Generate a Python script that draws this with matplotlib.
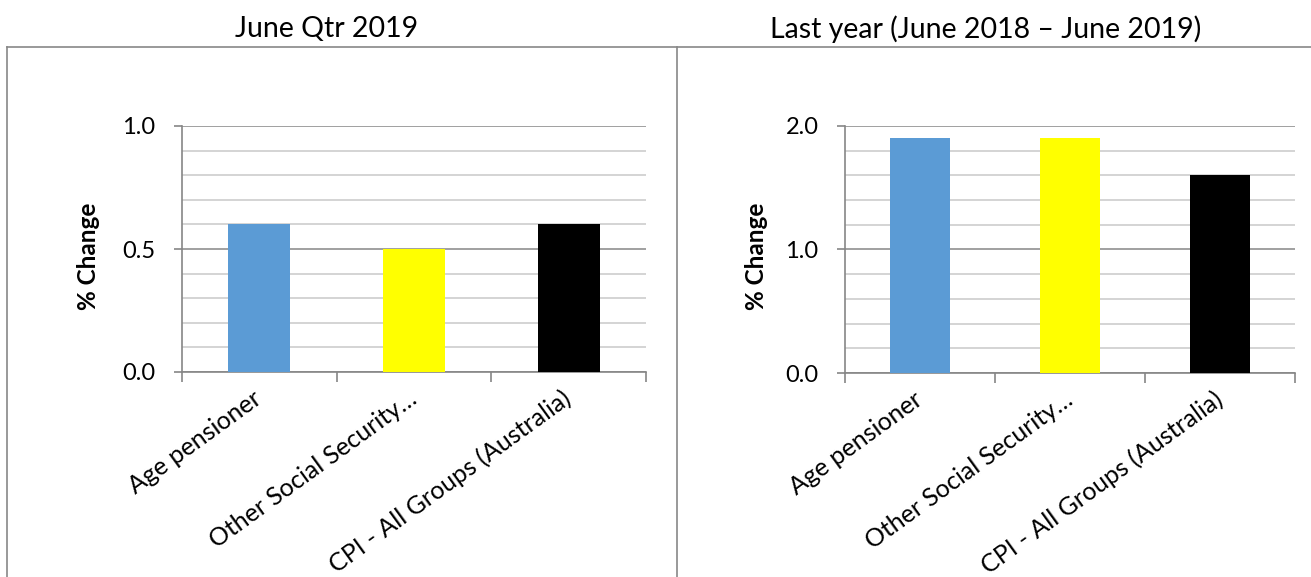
import matplotlib
matplotlib.use("Agg")
import matplotlib.pyplot as plt
from matplotlib.lines import Line2D
from matplotlib.ticker import MultipleLocator, FormatStrFormatter

plt.rcParams['font.family'] = ['Lato', 'DejaVu Sans']

categories = ["Age pensioner", "Other Social Security\u2026", "CPI - All Groups (Australia)"]
qtr_values = [0.6, 0.5, 0.6]
year_values = [1.9, 1.9, 1.6]
bar_colors = ["#5B9BD5", "#FFFF00", "#000000"]
titles = ["June Qtr 2019", "Last year (June 2018 \u2013 June 2019)"]
ylabel = "% Change"

W, H = 1311, 577
fig = plt.figure(figsize=(W / 100, H / 100), dpi=100)

def fx(px):
    return px / W

def fy(py):
    return 1 - py / H

panels = [
    dict(values=qtr_values, left=182, right=646, top=126, bottom=372, ymax=1.0, major=0.5, minor=0.1,
         title_x=327, ylabel_x=88),
    dict(values=year_values, left=845, right=1295, top=126, bottom=373, ymax=2.0, major=1.0, minor=0.2,
         title_x=986, ylabel_x=756),
]

grid_major = "#A0A0A0"
grid_minor = "#D4D4D4"
axis_col = "#868686"

for p, title in zip(panels, titles):
    ax = fig.add_axes([fx(p['left']), fy(p['bottom']), fx(p['right'] - p['left']), (p['bottom'] - p['top']) / H])
    x = list(range(len(categories)))
    ax.bar(x, p['values'], width=0.4, color=bar_colors, zorder=3)
    ax.set_xlim(-0.5, len(categories) - 0.5)
    ax.set_ylim(0, p['ymax'])
    ax.yaxis.set_major_locator(MultipleLocator(p['major']))
    ax.yaxis.set_minor_locator(MultipleLocator(p['minor']))
    ax.yaxis.set_major_formatter(FormatStrFormatter('%.1f'))
    ax.grid(which='major', axis='y', color=grid_major, linewidth=1.4, zorder=1)
    ax.grid(which='minor', axis='y', color=grid_minor, linewidth=1.4, zorder=1)
    ax.set_axisbelow(True)
    for s in ['top', 'right']:
        ax.spines[s].set_visible(False)
    for s in ['left', 'bottom']:
        ax.spines[s].set_color(axis_col)
        ax.spines[s].set_linewidth(1.2)
    ax.tick_params(axis='y', which='major', length=6, width=1.2, color=axis_col, labelsize=17, pad=13)
    ax.tick_params(axis='y', which='minor', length=0)
    ax.set_xticks(x)
    ax.set_xticklabels(categories, rotation=36, ha='right', va='center', rotation_mode='anchor', fontsize=18)
    ax.tick_params(axis='x', which='major', length=0, pad=17)
    ax.set_xticks([i - 0.5 for i in range(len(categories) + 1)], minor=True)
    ax.tick_params(axis='x', which='minor', length=7, width=1.2, color=axis_col, direction='out')
    fig.text(fx(p['title_x']), fy(29), title, ha='center', va='center', fontsize=20.5)
    fig.text(fx(p['ylabel_x']), fy(256), ylabel, rotation=90, ha='center', va='center',
             fontsize=17.5, fontweight='bold')

border = "#888888"
fig.add_artist(Line2D([fx(7), 1], [fy(47), fy(47)], color=border, linewidth=1.2, transform=fig.transFigure))
fig.add_artist(Line2D([fx(7), fx(7)], [0, fy(47)], color=border, linewidth=1.2, transform=fig.transFigure))
fig.add_artist(Line2D([fx(677), fx(677)], [0, fy(47)], color=border, linewidth=1.2, transform=fig.transFigure))

fig.savefig("out.png", dpi=100, facecolor='white')
